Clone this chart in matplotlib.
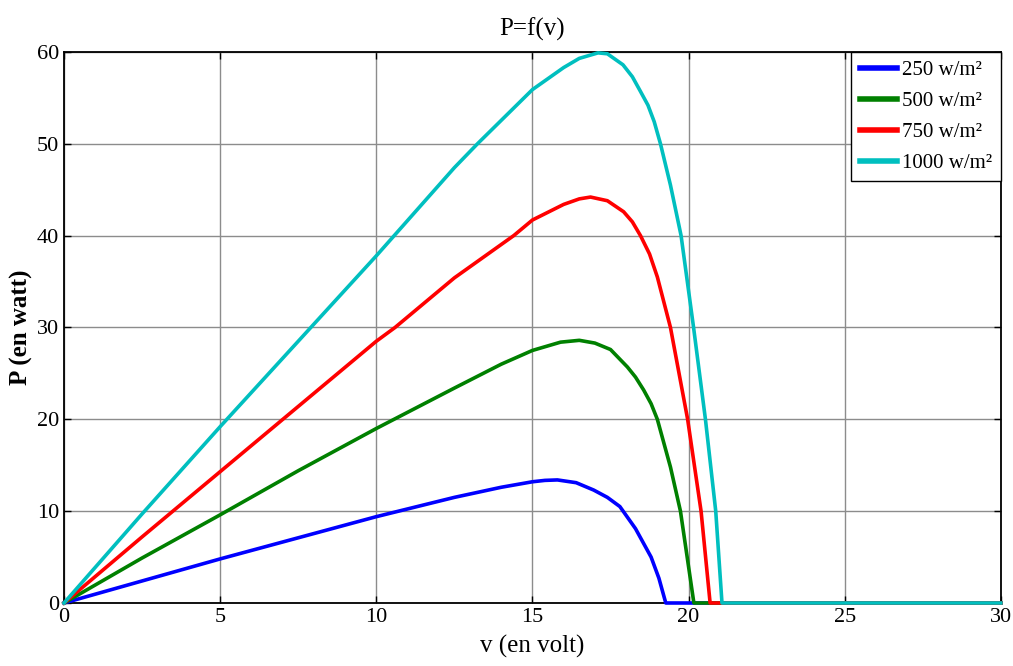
import matplotlib.pyplot as plt

# courbes P=f(v) du panneau pour 4 niveaux d'éclairement
v_250 = [0, 2.5, 5, 7.5, 10, 12.5, 14.0, 15, 15.4, 15.8, 16.4, 16.96, 17.4, 17.8, 18.3, 18.8, 19.05, 19.27, 30]
p_250 = [0, 2.4, 4.8, 7.1, 9.4, 11.5, 12.6, 13.2, 13.35, 13.4, 13.1, 12.3, 11.5, 10.5, 8.1, 5.0, 2.7, 0, 0]

v_500 = [0, 2.5, 5, 7.5, 10, 12.5, 14.0, 15, 15.9, 16.5, 17.0, 17.5, 18.04, 18.3, 18.56, 18.8, 19.0, 19.42, 19.74, 20.17, 30]
p_500 = [0, 4.9, 9.6, 14.4, 19.0, 23.4, 26.0, 27.5, 28.4, 28.6, 28.3, 27.6, 25.7, 24.6, 23.2, 21.7, 20.0, 14.8, 10.0, 0, 0]

v_750 = [0, 2.5, 5, 7.5, 10, 10.6, 12.5, 14.4, 15, 16.0, 16.5, 16.86, 17.4, 17.92, 18.2, 18.46, 18.75, 19.0, 19.42, 19.97, 20.4, 20.69, 30]
p_750 = [0, 7.2, 14.3, 21.4, 28.5, 30.0, 35.4, 40.0, 41.7, 43.4, 44.0, 44.2, 43.8, 42.6, 41.5, 40.0, 38.0, 35.5, 30.0, 20.0, 10.0, 0, 0]

v_1000 = [0, 2.5, 5, 7.5, 10, 12.5, 13.24, 15, 16.0, 16.5, 17.1, 17.4, 17.9, 18.2, 18.46, 18.7, 18.9, 19.1, 19.42, 19.76, 20.16, 20.54, 20.87, 21.07, 30]
p_1000 = [0, 9.7, 19.2, 28.5, 37.8, 47.4, 50.0, 55.9, 58.3, 59.3, 59.9, 59.8, 58.6, 57.3, 55.7, 54.2, 52.4, 50.0, 45.5, 40.0, 30.0, 20.0, 10.0, 0, 0]

labels = ['250 w/m²', '500 w/m²', '750 w/m²', '1000 w/m²']
couleurs = ['#0000ff', '#008000', '#ff0000', '#00bfbf']

plt.rcParams['font.family'] = ['Liberation Serif', 'DejaVu Serif']

fig = plt.figure(figsize=(10.13, 6.66), dpi=100)
ax = fig.add_axes([0.0632, 0.0946, 0.9248, 0.8274])

for v, p, lab, c in zip([v_250, v_500, v_750, v_1000],
                        [p_250, p_500, p_750, p_1000], labels, couleurs):
    ax.plot(v, p, color=c, lw=2.6, label=lab, clip_on=False, zorder=3,
            solid_joinstyle='round')

ax.set_xlim(0, 30)
ax.set_ylim(0, 60)
ax.set_xticks(range(0, 31, 5))
ax.set_yticks(range(0, 61, 10))
ax.grid(True, color='#8c8c8c', lw=1.0)
ax.tick_params(direction='in', top=True, right=True, labelsize=16, length=5, width=1)
for s in ax.spines.values():
    s.set_linewidth(1.3)

ax.set_title('P=f(v)', fontsize=18, pad=12)
ax.set_xlabel('v (en volt)', fontsize=18, labelpad=6)
ax.set_ylabel('P (en watt)', fontsize=18, fontweight='bold', labelpad=3)

leg = ax.legend(loc='upper right', borderaxespad=0, fontsize=15, handlelength=1.8,
                handletextpad=0.25, labelspacing=0.55, borderpad=0.4,
                fancybox=False, edgecolor='black', framealpha=1)
leg.get_frame().set_linewidth(1.0)
for line in leg.get_lines():
    line.set_linewidth(4)

fig.savefig('out.png', dpi=100)
